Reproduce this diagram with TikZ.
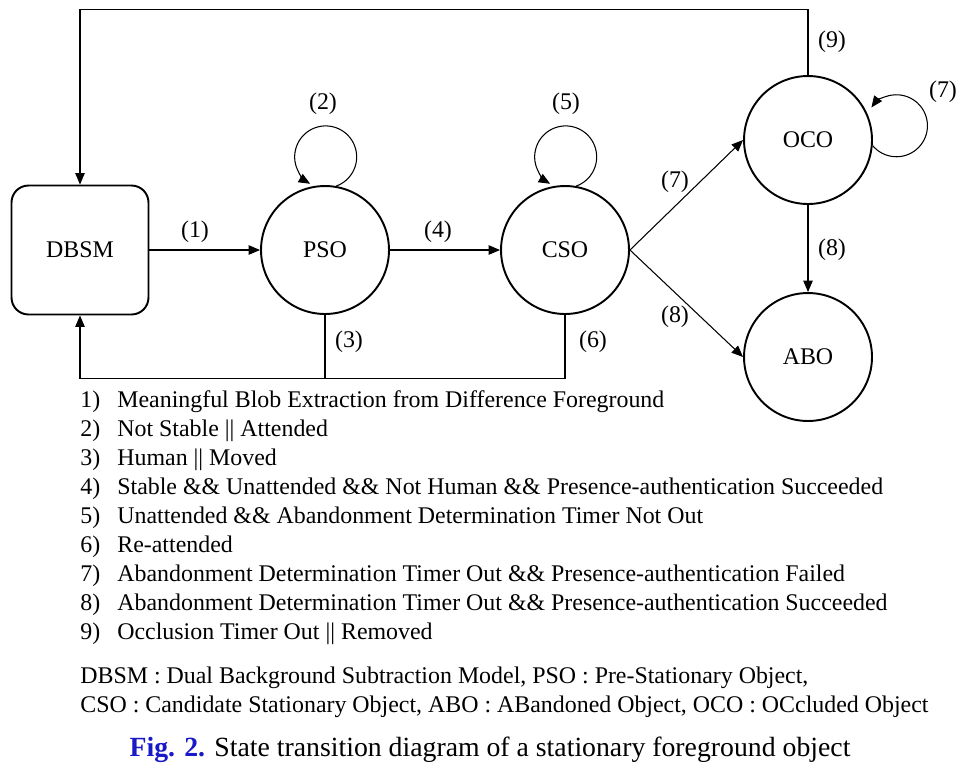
\documentclass[tikz,border=0pt]{standalone}
\usepackage{fontspec}
\setmainfont{Liberation Serif}
\usetikzlibrary{arrows.meta,positioning}
\definecolor{figblue}{RGB}{25,25,200}

\begin{document}
\begin{tikzpicture}[x=0.02cm, y=0.02cm, every node/.style={font=\fontsize{13.6}{16}\selectfont}]
    % Styles
    \tikzstyle{state}=[circle, draw, line width=1.1pt, minimum size=2.56cm, inner sep=0pt, fill=white]
    \tikzstyle{model}=[rectangle, rounded corners=0.34cm, draw, line width=1.1pt, minimum width=2.74cm, minimum height=2.58cm, fill=white]
    \tikzstyle{edge}=[line width=0.6pt, -{Triangle[length=2.3mm,width=1.9mm]}]
    \tikzstyle{wire}=[line width=0.6pt]

    \useasboundingbox (0,0) rectangle (976,-769);

    % States
    \node[model] (dbsm) at (80,-250) {DBSM};
    \node[state] (pso) at (325,-250) {PSO};
    \node[state] (cso) at (565,-250) {CSO};
    \node[state] (oco) at (808,-140) {OCO};
    \node[state] (abo) at (808,-357) {ABO};

    % Transitions
    \draw[edge] (dbsm) -- (pso);
    \draw[edge] (pso) -- (cso);
    \draw[edge] (cso.east) -- (oco.west);
    \draw[edge] (cso.east) -- (abo.west);
    \draw[edge] (oco) -- (abo);

    % Self loops
    \draw[edge] (pso.80) arc[start angle=-70, end angle=240, radius=31];
    \draw[edge] (cso.80) arc[start angle=-70, end angle=240, radius=31];
    \draw[edge] (oco.-5) arc[start angle=-140, end angle=144, radius=31];

    % Back to DBSM
    \draw[edge] (oco.north) -- ++(0,66) -| (dbsm.north);
    \draw[wire] (cso.south) -- ++(0,-64) coordinate (junc) -- (junc -| pso.south);
    \draw[edge] (pso.south) -- (pso.south |- junc) -| (dbsm.south);

    % Labels
    \node (l1) at (195,-232) {(1)};
    \node (l2) at (323,-104) {(2)};
    \node (l3) at (349,-342) {(3)};
    \node (l4) at (438,-232) {(4)};
    \node (l5) at (566,-104) {(5)};
    \node (l6) at (593,-342) {(6)};
    \node (l7a) at (675,-182) {(7)};
    \node (l8a) at (675,-317) {(8)};
    \node (l7b) at (943,-92) {(7)};
    \node (l8b) at (832,-250) {(8)};
    \node (l9) at (832,-42) {(9)};

    % Conditions
    \foreach \n/\txt in {1/{Meaningful Blob Extraction from Difference Foreground},
        2/{Not Stable || Attended},
        3/{Human || Moved},
        4/{Stable \&\& Unattended \&\& Not Human \&\& Presence-authentication Succeeded},
        5/{Unattended \&\& Abandonment Determination Timer Not Out},
        6/{Re-attended},
        7/{Abandonment Determination Timer Out \&\& Presence-authentication Failed},
        8/{Abandonment Determination Timer Out \&\& Presence-authentication Succeeded},
        9/{Occlusion Timer Out || Removed}}{
        \node[anchor=base west, inner sep=0pt] (num\n) at (80,{-407-29*(\n-1)}) {\n)};
        \node[anchor=base west, inner sep=0pt] (item\n) at (117,{-407-29*(\n-1)}) {\txt};
    }

    % Abbreviations
    \node[anchor=base west, inner sep=0pt] (abbr1) at (80,-683) {DBSM : Dual Background Subtraction Model, PSO : Pre-Stationary Object,};
    \node[anchor=base west, inner sep=0pt] (abbr2) at (80,-712) {CSO : Candidate Stationary Object, ABO : ABandoned Object, OCO : OCcluded Object};

    % Caption
    \node[anchor=base, inner sep=0pt, font=\fontsize{15.8}{18}\selectfont] (cap) at (490,-756) {{\color{figblue}\bfseries Fig. 2.} State transition diagram of a stationary foreground object};
\end{tikzpicture}
\end{document}
